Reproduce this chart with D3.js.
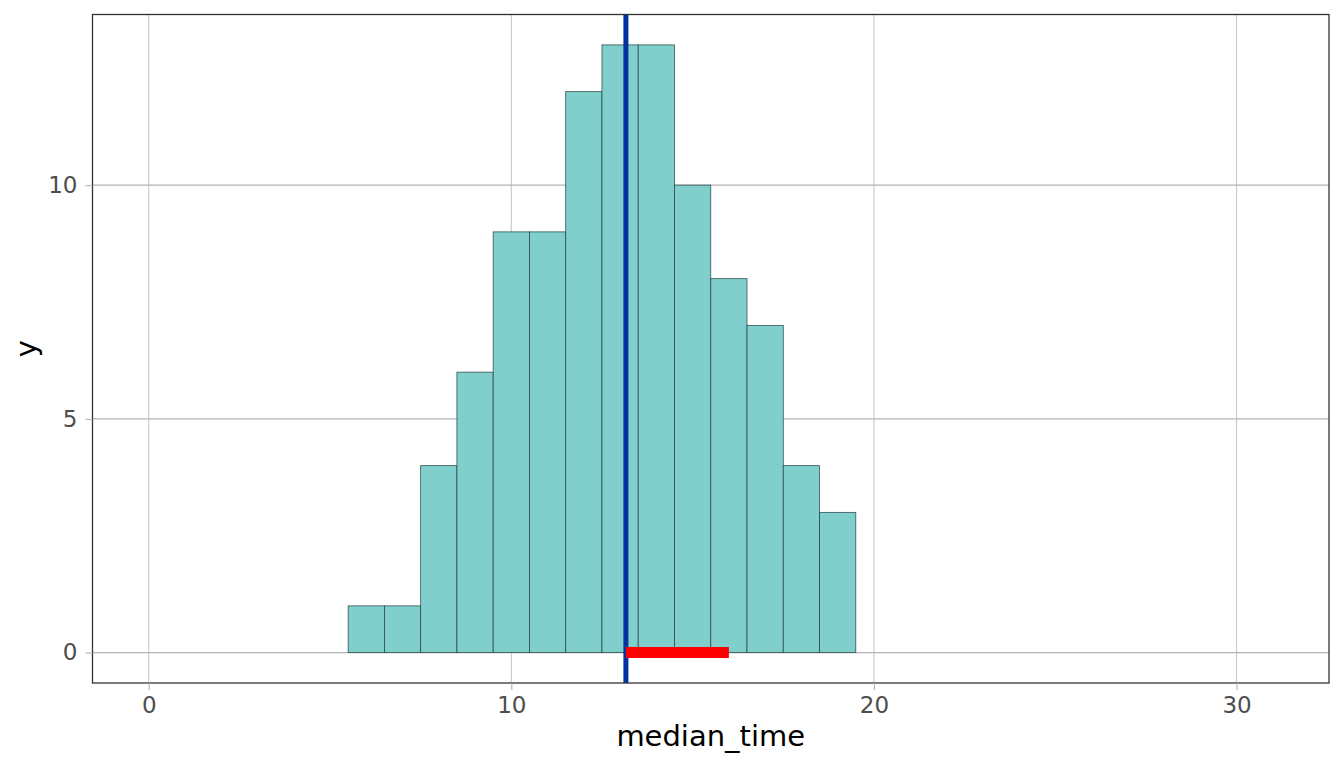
<!DOCTYPE html>
<html>
<head>
<meta charset="utf-8">
<script src="https://cdn.jsdelivr.net/npm/d3@7"></script>
<style>
  body { margin: 0; background: #fff; }
  svg { display: block; font-family: 'DejaVu Sans', sans-serif; }
</style>
</head>
<body>
<svg id="chart" width="1344" height="768"></svg>
<script>
// histogram bins (centre of each unit-wide bin) and counts
const binCenters = [6, 7, 8, 9, 10, 11, 12, 13, 14, 15, 16, 17, 18, 19];
const counts = [1, 1, 4, 6, 9, 9, 12, 13, 13, 10, 8, 7, 4, 3];
const binWidth = 1;

const xTicks = [0, 10, 20, 30];
const yTicks = [0, 5, 10];

// reference marks
const medianLine = 13.16;
const intervalSegment = [13.16, 16.0];

const createChart = () => {
  const width = 1344;
  const height = 768;
  const margin = { top: 14.5, right: 15, bottom: 85, left: 92.5 };

  const svg = d3.select('#chart');

  const x = d3.scaleLinear()
    .domain([-1.55, 32.55])
    .range([margin.left, width - margin.right]);

  const y = d3.scaleLinear()
    .domain([-0.65, 13.65])
    .range([height - margin.bottom, margin.top]);

  const panel = svg.append('g');

  // grid
  panel.append('g')
    .selectAll('line')
    .data(xTicks)
    .join('line')
    .attr('x1', d => x(d)).attr('x2', d => x(d))
    .attr('y1', margin.top).attr('y2', height - margin.bottom)
    .attr('stroke', '#c8c8c8')
    .attr('stroke-width', 1.1);

  panel.append('g')
    .selectAll('line')
    .data(yTicks)
    .join('line')
    .attr('x1', margin.left).attr('x2', width - margin.right)
    .attr('y1', d => y(d)).attr('y2', d => y(d))
    .attr('stroke', '#b4b4b4')
    .attr('stroke-width', 1.1);

  // bars
  panel.append('g')
    .selectAll('rect')
    .data(binCenters.map((c, i) => ({ c, n: counts[i] })))
    .join('rect')
    .attr('x', d => x(d.c - binWidth / 2))
    .attr('width', d => x(d.c + binWidth / 2) - x(d.c - binWidth / 2))
    .attr('y', d => y(d.n))
    .attr('height', d => y(0) - y(d.n))
    .attr('fill', '#80cfcc')
    .attr('stroke', '#1f3a3a')
    .attr('stroke-opacity', 0.85)
    .attr('stroke-width', 0.8);

  // vertical reference line
  panel.append('line')
    .attr('x1', x(medianLine)).attr('x2', x(medianLine))
    .attr('y1', margin.top).attr('y2', height - margin.bottom)
    .attr('stroke', '#0033a0')
    .attr('stroke-width', 5);

  // interval segment
  panel.append('line')
    .attr('x1', x(intervalSegment[0])).attr('x2', x(intervalSegment[1]))
    .attr('y1', y(0)).attr('y2', y(0))
    .attr('stroke', '#ff0000')
    .attr('stroke-width', 11);

  // panel border
  svg.append('rect')
    .attr('x', margin.left).attr('y', margin.top)
    .attr('width', width - margin.right - margin.left)
    .attr('height', height - margin.bottom - margin.top)
    .attr('fill', 'none')
    .attr('stroke', '#333333')
    .attr('stroke-width', 1.3);

  // axes
  const xAxis = svg.append('g')
    .attr('transform', `translate(0,${height - margin.bottom})`)
    .call(d3.axisBottom(x).tickValues(xTicks).tickSize(7).tickPadding(7));

  const yAxis = svg.append('g')
    .attr('transform', `translate(${margin.left},0)`)
    .call(d3.axisLeft(y).tickValues(yTicks).tickSize(7).tickPadding(8));

  [xAxis, yAxis].forEach(a => {
    a.select('.domain').remove();
    a.selectAll('.tick line').attr('stroke', '#b4b4b4').attr('stroke-width', 1.1);
    a.selectAll('.tick text')
      .attr('fill', '#4d4d4d')
      .attr('font-size', 23)
      .attr('font-family', 'DejaVu Sans, sans-serif');
  });

  svg.append('text')
    .attr('x', (margin.left + width - margin.right) / 2)
    .attr('y', 746)
    .attr('text-anchor', 'middle')
    .attr('font-size', 29)
    .attr('fill', '#000')
    .text('median_time');

  svg.append('text')
    .attr('transform', `translate(35.5,${(margin.top + height - margin.bottom) / 2}) rotate(-90)`)
    .attr('text-anchor', 'middle')
    .attr('font-size', 29)
    .attr('fill', '#000')
    .text('y');
};

window.addEventListener('DOMContentLoaded', () => {
  createChart();
});
</script>
</body>
</html>
